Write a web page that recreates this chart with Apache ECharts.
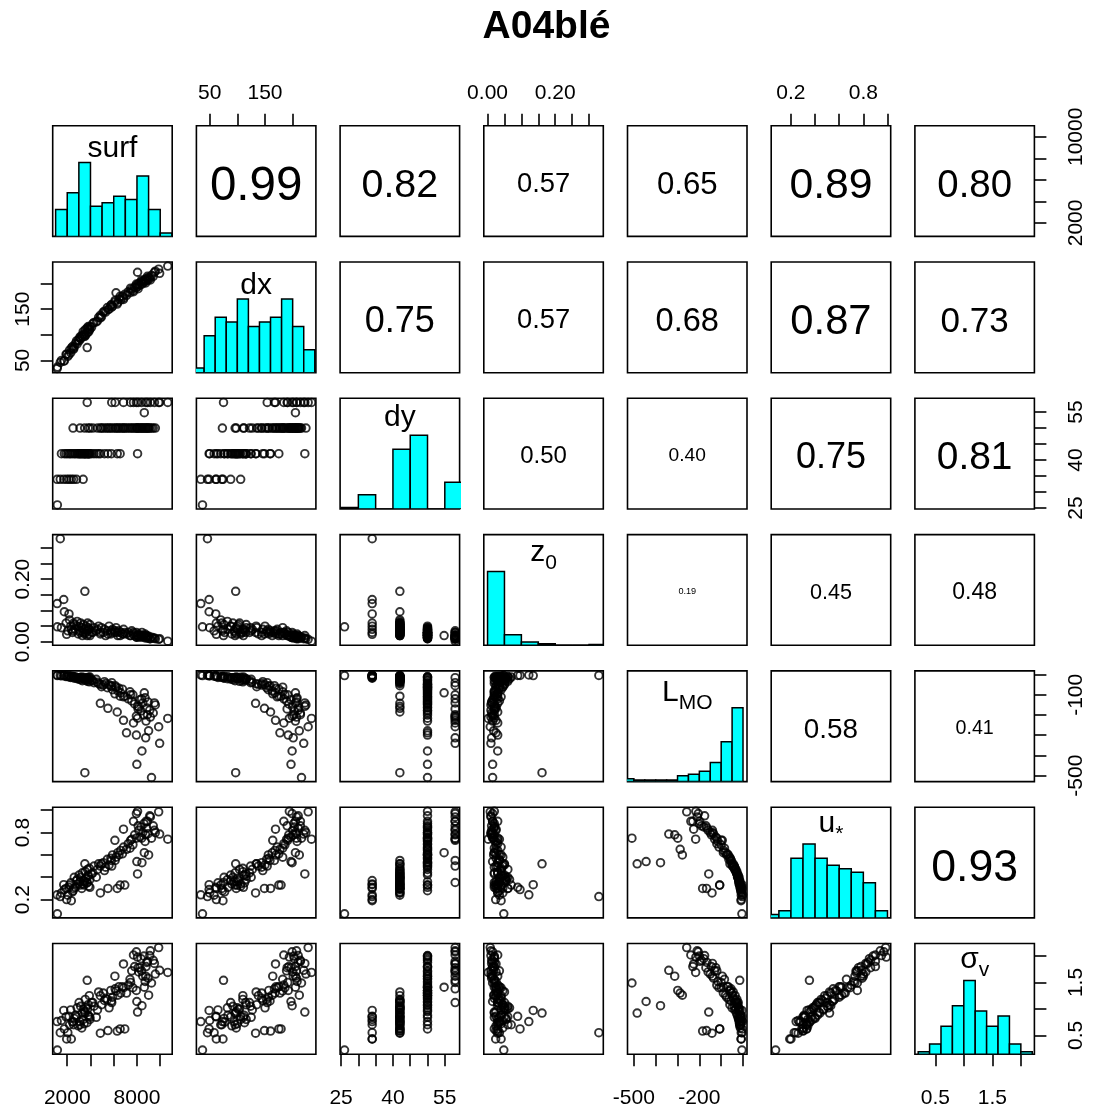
<!DOCTYPE html>
<html>
<head>
<meta charset="utf-8">
<title>A04blé</title>
<script src="https://cdn.jsdelivr.net/npm/echarts@6/dist/echarts.min.js"></script>
<style>
  html, body { margin: 0; padding: 0; background: #fff; }
  #chart { width: 1093px; height: 1111px; }
</style>
</head>
<body>
<div id="chart"></div>
<script>
// ---- data (one entry per record, same order in every array) ----
var surf = [1150,
  1130,1400,1700,1950,2150,2350,2550,2800,3370,
  1500,1750,1900,2050,2200,2300,2450,2600,2700,2850,2950,3020,3100,3150,3250,3300,3400,3450,3517,3550,
  3600,3700,3750,3800,3850,3900,3950,4100,4300,4500,4700,4850,5200,5500,5800,6300,6550,8050,
  2500,3100,3500,3800,3950,4200,4600,4850,4950,5100,5300,5450,5600,5750,5900,6100,6200,6350,6450,6600,
  6750,6850,6950,7100,7250,7400,7550,7650,7800,7950,7990,8050,8150,8250,8350,8427,8500,8600,8700,8780,
  8850,8950,9000,9100,9250,9400,9580,
  8630,
  3718,5830,6120,6840,7450,7700,7950,8100,8400,8750,8900,9150,9500,9866,9950,10650];
var dx = [37,
  34,46,49,62,61,74,72,88,106,
  50,49,62,58,70,65,77,76,83,82,90,88,94,92,98,96,102,100,97,110,
  100,113,104,116,106,110,116,115,124,125,134,133,146,149,159,160,175,222,
  73,96,98,112,111,122,127,138,135,144,144,153,150,157,156,164,182,163,170,168,
  175,172,179,177,184,182,189,186,193,192,197,194,200,197,203,199,205,202,208,205,
  210,207,212,210,216,214,224,
  205,
  75,154,167,169,191,184,199,190,207,201,214,207,222,228,220,234];
var dy = [26,
  34,34,34,34,34,34,34,34,34,
  42,42,42,42,42,42,42,42,42,42,42,42,42,42,42,42,42,42,42,42,
  42,42,42,42,42,42,42,42,42,42,42,42,42,42,42,42,42,42,
  50,50,50,50,50,50,50,50,50,50,50,50,50,50,50,50,50,50,50,50,
  50,50,50,50,50,50,50,50,50,50,50,50,50,50,50,50,50,50,50,50,
  50,50,50,50,50,50,50,
  54.8,
  58,58,58,58,58,58,58,58,58,58,58,58,58,58,58,58];
var z0 = [0.048,
  0.122,0.329,0.135,0.024,0.089,0.040,0.060,0.050,0.030,
  0.045,0.096,0.060,0.035,0.070,0.050,0.030,0.055,0.040,0.065,0.025,0.050,0.035,0.060,0.045,0.020,0.055,0.040,0.161,0.030,
  0.050,0.035,0.060,0.045,0.025,0.040,0.055,0.030,0.045,0.035,0.050,0.030,0.040,0.025,0.035,0.030,0.020,0.020,
  0.035,0.030,0.025,0.040,0.020,0.030,0.040,0.025,0.045,0.030,0.020,0.035,0.050,0.025,0.040,0.030,0.045,0.020,0.035,0.030,
  0.025,0.040,0.030,0.025,0.030,0.020,0.035,0.025,0.020,0.030,0.015,0.020,0.025,0.015,0.020,0.030,0.015,0.020,0.025,0.015,
  0.020,0.012,0.018,0.010,0.015,0.012,0.010,
  0.020,
  0.020,0.030,0.035,0.025,0.020,0.030,0.015,0.020,0.018,0.012,0.015,0.010,0.012,0.008,0.010,0.002];
var lmo = [-5,
  -2,-4,-5,-8,-4,-9,-12,-15,-18,
  -6,-4,-10,-8,-12,-14,-9,-18,-11,-20,-15,-22,-16,-25,-12,-30,-19,-14,-485,-28,
  -21,-17,-33,-24,-13,-36,-20,-27,-40,-23,-45,-142,-35,-167,-55,-185,-107,-157,
  -10,-14,-19,-26,-12,-30,-38,-48,-60,-52,-44,-65,-50,-58,-75,-95,-62,-80,-68,-90,
  -72,-110,-107,-288,-120,-85,-130,-100,-145,-299,-444,-216,-160,-125,-180,-378,-140,-200,-115,-230,
  -165,-135,-278,-176,-509,-190,-150,
  -90,
  -15,-40,-55,-226,-100,-239,-205,-170,-120,-313,-198,-210,-140,-258,-340,-217];
var ustar = [0.073,
  0.243,0.227,0.334,0.20,0.31,0.19,0.30,0.37,0.34,
  0.26,0.29,0.30,0.24,0.33,0.35,0.27,0.40,0.31,0.38,0.34,0.42,0.36,0.40,0.30,0.44,0.37,0.33,0.52,0.45,
  0.39,0.35,0.47,0.41,0.32,0.48,0.38,0.43,0.50,0.40,0.52,0.26,0.46,0.30,0.55,0.30,0.33,0.43,
  0.28,0.33,0.36,0.42,0.31,0.44,0.47,0.50,0.52,0.53,0.49,0.56,0.51,0.57,0.60,0.73,0.58,0.62,0.60,0.64,
  0.61,0.67,0.33,0.65,0.70,0.66,0.74,0.69,0.78,0.75,0.54,0.99,0.82,0.76,0.85,0.53,0.80,0.88,0.72,0.90,
  0.84,0.79,0.60,0.95,0.75,0.86,0.80,
  0.62,
  0.353,0.50,0.55,0.83,0.73,0.90,0.97,0.86,0.75,0.78,0.90,0.94,0.82,0.985,0.786,0.741];
var sigv = [0.22,
  0.76,0.55,0.97,0.43,0.86,0.43,0.70,0.85,0.80,
  0.78,0.62,0.85,0.55,0.70,0.98,0.75,0.82,0.88,1.02,0.68,1.12,0.76,1.05,0.64,0.92,0.99,0.72,0.92,1.18,
  1.02,0.74,1.00,1.08,0.86,1.25,0.80,1.12,1.05,0.84,1.32,0.54,1.16,0.59,1.15,0.58,0.62,0.94,
  0.76,0.70,0.95,0.88,0.84,1.12,0.98,1.25,1.08,1.30,1.20,1.18,1.02,1.35,1.22,1.62,1.34,1.26,1.42,1.30,
  1.42,1.40,0.62,1.30,1.45,1.56,1.72,1.40,1.80,1.35,1.14,1.98,1.70,1.78,1.95,1.06,1.62,2.00,1.52,1.80,
  1.88,1.58,1.26,2.01,1.49,1.92,1.66,
  1.41,
  1.54,1.12,1.38,1.85,1.50,2.02,2.08,1.78,1.72,1.62,1.90,2.10,1.86,2.16,1.73,1.69];

// ---- histogram breaks and counts (diagonal panels) ----
var surfBreaks = [1000,2000,3000,4000,5000,6000,7000,8000,9000,10000,11000];
var surfCounts = [8,13,22,9,10,12,11,18,8,1];
var dxBreaks = [20,40,60,80,100,120,140,160,180,200,220,240];
var dxCounts = [1,8,12,11,16,10,11,12,16,10,5];
var dyBreaks = [25,30,35,40,45,50,55,60];
var dyCounts = [1,9,0,38,47,0,17];
var z0Breaks = [0,0.05,0.10,0.15,0.20,0.25,0.30,0.35];
var z0Counts = [92,13,4,2,0,0,1];
var lmoBreaks = [-550,-500,-450,-400,-350,-300,-250,-200,-150,-100,-50,0];
var lmoCounts = [2,1,1,1,1,4,5,7,13,27,50];
var ustarBreaks = [0,0.1,0.2,0.3,0.4,0.5,0.6,0.7,0.8,0.9,1.0];
var ustarCounts = [1,2,17,21,17,15,14,13,10,2];
var sigvBreaks = [0.2,0.4,0.6,0.8,1.0,1.2,1.4,1.6,1.8,2.0,2.2];
var sigvCounts = [1,4,11,19,29,17,11,15,4,1];

// ---- correlations shown in the upper panels (row by row) ----
var corrValues = [0.99,0.82,0.57,0.65,0.89,0.80,
                  0.75,0.57,0.68,0.87,0.73,
                  0.50,0.40,0.75,0.81,
                  0.19,0.45,0.48,
                  0.58,0.41,
                  0.93];

// ---- axis ticks and labels ----
var surfTicks = [2000,4000,6000,8000,10000], surfLabelsBottom = [2000,8000], surfLabelsRight = [2000,10000];
var dxTicks = [50,100,150,200], dxLabels = [50,150];
var dyTicks = [25,30,35,40,45,50,55], dyLabels = [25,40,55];
var z0Ticks = [0,0.05,0.10,0.15,0.20,0.25,0.30], z0Labels = [0,0.20];
var lmoTicks = [-500,-400,-300,-200,-100,0], lmoLabelsBottom = [-500,-200], lmoLabelsRight = [-500,-100];
var ustarTicks = [0.2,0.4,0.6,0.8,1.0], ustarLabels = [0.2,0.8];
var sigvTicks = [0.5,1.0,1.5,2.0], sigvLabels = [0.5,1.5];

var varNames = ['surf','dx','dy','z','L','u','\u03c3'];
var varSubs  = ['','','','0','MO','*','v'];

(function () {
  var FONT = '"Liberation Sans", Arial, Helvetica, sans-serif';
  var PANEL_L = 52.7, PANEL_T = 125.7, STEP_X = 143.7, STEP_Y = 136.3, PW = 119.5, PH = 110.7;
  var N = 7;

  var columns = [surf, dx, dy, z0, lmo, ustar, sigv];
  var breaks = [surfBreaks, dxBreaks, dyBreaks, z0Breaks, lmoBreaks, ustarBreaks, sigvBreaks];
  var counts = [surfCounts, dxCounts, dyCounts, z0Counts, lmoCounts, ustarCounts, sigvCounts];
  var ticks = [surfTicks, dxTicks, dyTicks, z0Ticks, lmoTicks, ustarTicks, sigvTicks];
  var labelsBottom = [surfLabelsBottom, null, dyLabels, null, lmoLabelsBottom, null, sigvLabels];
  var labelsTop = [null, dxLabels, null, z0Labels, null, ustarLabels, null];
  var labelsRight = [surfLabelsRight, null, dyLabels, null, lmoLabelsRight, null, sigvLabels];
  var digits = [0, 0, 0, 2, 0, 1, 1];

  function extent(a) {
    var lo = a[0], hi = a[0];
    for (var q = 1; q < a.length; q++) { if (a[q] < lo) lo = a[q]; if (a[q] > hi) hi = a[q]; }
    return [lo, hi];
  }
  // R style: data range stretched by 4% on each side
  var ranges = columns.map(function (a) {
    var e = extent(a), pad = (e[1] - e[0]) * 0.04;
    return [e[0] - pad, e[1] + pad];
  });

  var sideStyle = {
    top:    { margin: 22, rotate: 0 },
    bottom: { margin: 34, rotate: 0 },
    left:   { margin: 19, rotate: 90 },
    right:  { margin: 31, rotate: 90 }
  };
  var formatters = digits.map(function (d) { return function (val) { return Number(val).toFixed(d); }; });

  function makeAxis(k, v, side, labelVals) {
    var ax = {
      type: 'value', gridIndex: k, min: ranges[v][0], max: ranges[v][1],
      show: !!side, axisLine: { show: false, onZero: false }, splitLine: { show: false }
    };
    if (side) {
      ax.position = side;
      ax.axisTick = { show: true, length: 12, customValues: ticks[v], lineStyle: { color: '#000', width: 1.6 } };
      ax.axisLabel = {
        show: true, customValues: labelVals, color: '#000', fontSize: 21, fontFamily: FONT,
        margin: sideStyle[side].margin, rotate: sideStyle[side].rotate, formatter: formatters[v]
      };
    }
    return ax;
  }

  var measureCtx = document.createElement('canvas').getContext('2d');
  function textWidth(t, size) {
    measureCtx.font = size + 'px ' + FONT;
    return measureCtx.measureText(t).width;
  }

  var labelBase = [34, 34, 30, 29, 32, 27, 27];
  var subDrop = [0, 0, 0, 7, 8, 7, 7];

  function histRender(params, api) {
    var a = api.coord([api.value(0), api.value(3)]);
    var c = api.coord([api.value(1), api.value(2)]);
    return {
      type: 'rect',
      shape: { x: a[0], y: c[1], width: c[0] - a[0], height: a[1] - c[1] },
      style: { fill: '#00FFFF', stroke: '#000', lineWidth: 1.5 }
    };
  }

  var grids = [], xAxes = [], yAxes = [], series = [], graphics = [];
  var corrIdx = 0;

  for (var i = 0; i < N; i++) {
    for (var j = 0; j < N; j++) {
      var k = i * N + j;
      var panelLeft = PANEL_L + j * STEP_X, panelTop = PANEL_T + i * STEP_Y;
      var cx = panelLeft + PW / 2, cy = panelTop + PH / 2;
      grids.push({ left: panelLeft, top: panelTop, width: PW, height: PH, show: true,
        borderColor: '#000', borderWidth: 1.6 });

      var xSide = (i === 0 && j % 2 === 1) ? 'top' : ((i === N - 1 && j % 2 === 0) ? 'bottom' : null);
      var ySide = (j === 0 && i % 2 === 1) ? 'left' : ((j === N - 1 && i % 2 === 0) ? 'right' : null);
      xAxes.push(makeAxis(k, j, xSide, xSide === 'top' ? labelsTop[j] : labelsBottom[j]));
      yAxes.push(makeAxis(k, i, ySide, ySide === 'left' ? labelsTop[i] : labelsRight[i]));

      if (i > j) {
        var pts = [];
        for (var r = 0; r < surf.length; r++) pts.push([columns[j][r], columns[i][r]]);
        series.push({
          type: 'scatter', xAxisIndex: k, yAxisIndex: k, data: pts,
          symbol: 'circle', symbolSize: 7.6, silent: true,
          itemStyle: { color: 'rgba(0,0,0,0)', borderColor: '#000', borderWidth: 1.9 }
        });
      } else if (i === j) {
        // bar heights: count / max(count) on a 0..1.5 scale, mapped into the panel's y range
        var cts = counts[i], br = breaks[i], mx = extent(cts)[1], hd = [];
        var ylo = ranges[i][0], yspan = ranges[i][1] - ranges[i][0];
        for (var b = 0; b < cts.length; b++) {
          hd.push([br[b], br[b + 1], ylo + (cts[b] / mx) / 1.5 * yspan, ylo]);
        }
        series.push({
          type: 'custom', xAxisIndex: k, yAxisIndex: k, data: hd, silent: true, clip: true,
          encode: { x: [0, 1], y: [2, 3] }, renderItem: histRender
        });
        var mainTxt = varNames[i], subTxt = varSubs[i];
        var wMain = textWidth(mainTxt, 30), wSub = subTxt ? textWidth(subTxt, 21) : 0;
        var x0 = cx - (wMain + wSub) / 2;
        var baseY = panelTop + labelBase[i];
        graphics.push({ type: 'text', x: x0, y: baseY - 0.35 * 30, silent: true,
          style: { text: mainTxt, fontSize: 30, fontFamily: FONT, fill: '#000', align: 'left', verticalAlign: 'middle' } });
        if (subTxt) {
          graphics.push({ type: 'text', x: x0 + wMain, y: baseY + subDrop[i] - 0.35 * 21, silent: true,
            style: { text: subTxt, fontSize: 21, fontFamily: FONT, fill: '#000', align: 'left', verticalAlign: 'middle' } });
        }
      } else {
        var rv = corrValues[corrIdx++];
        var fs = 48 * rv;
        graphics.push({ type: 'text', x: cx, y: cy + 0.13 * fs, silent: true,
          style: { text: rv.toFixed(2), fontSize: fs, fontFamily: FONT, fill: '#000', align: 'center', verticalAlign: 'middle' } });
      }
    }
  }

  var chart = echarts.init(document.getElementById('chart'));
  chart.setOption({
    backgroundColor: '#fff',
    animation: false,
    title: {
      text: 'A04blé', left: 'center', top: 3,
      textStyle: { fontSize: 39, fontWeight: 'bold', fontFamily: FONT, color: '#000' }
    },
    grid: grids,
    xAxis: xAxes,
    yAxis: yAxes,
    series: series,
    graphic: graphics
  });
})();
</script>
</body>
</html>
